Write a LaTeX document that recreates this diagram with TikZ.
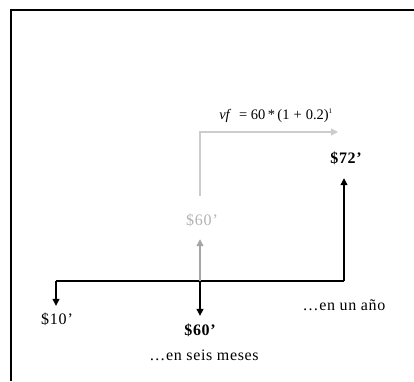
\documentclass[tikz,border=0pt]{standalone}
\usepackage{fontspec}
\setmainfont{Liberation Serif}
\usepackage{tikz}
\usetikzlibrary{
	arrows.meta,
	positioning,
	calc
}

\begin{document}
\begin{tikzpicture}[
				x=1pt, y=-1pt,
				amount/.style={
					inner sep=0pt, anchor=base, text height=11pt, text depth=0pt,
					font=\fontsize{16}{18}\selectfont\addfontfeature{LetterSpace=5}
				},
				boldamount/.style={
					amount, font=\fontsize{16}{18}\selectfont\bfseries\addfontfeature{LetterSpace=4}
				},
				caption/.style={
					inner sep=0pt, anchor=base,
					font=\fontsize{16}{18}\selectfont\addfontfeature{LetterSpace=4}
				},
				arrow/.style={-{Triangle[width=7pt,length=7pt]}, line width=1.2pt, black},
				grayarrow/.style={-{Triangle[width=7pt,length=7pt]}, line width=1.3pt, gray!70},
				grayline/.style={-{Triangle[width=7pt,length=7pt]}, line width=1.3pt, gray!40}
				]
				\useasboundingbox (0,0) rectangle (414,381);
				
				% frame
				\draw[line width=1.2pt] (11,381) -- (11,10) -- (414,10);
				
				% time line
				\coordinate (start) at (56,281);
				\coordinate (half) at (200,281);
				\coordinate (year) at (344,281);
				\draw[line width=1.2pt] (start) -- (year);
				
				% initial amount
				\node[amount] (ten) at (57,324) {\$10'};
				
				% after six months
				\node[boldamount] (sixty) at (200,335) {\$60'};
				\node[caption] (six) at (204,360) {…en seis meses};
				
				% reinvested amount
				\node[amount, text=gray!60] (sixtyg) at (202,225) {\$60'};
				
				% after one year
				\node[boldamount] (seventytwo) at (346,163) {\$72'};
				\node[caption] (oneyear) at (344,310) {…en un año};
				
				% formula
				\node[inner sep=0pt, anchor=base, font=\fontsize{14.5}{16}\selectfont] (formula) at (276,119)
					{\textit{vf}\; = 60\,*\,(1\;+\;0.2)\textsuperscript{\scriptsize 1}};
				\coordinate (corner) at (200,132);
				\coordinate (target) at (338,132);
				
				% arrows
				\draw[arrow] (start) -- ([yshift=7pt]ten.north -| start);
				\draw[arrow] (half) -- ([yshift=8pt]sixty.north -| half);
				\draw[arrow] (year) -- ([yshift=-15pt]seventytwo.south -| year);
				\draw[grayarrow] (half) -- ([yshift=-14pt]sixtyg.south -| half);
				\draw[grayline] ([yshift=18pt]sixtyg.north -| half) -- (corner) -- (target);
			\end{tikzpicture}
\end{document}
